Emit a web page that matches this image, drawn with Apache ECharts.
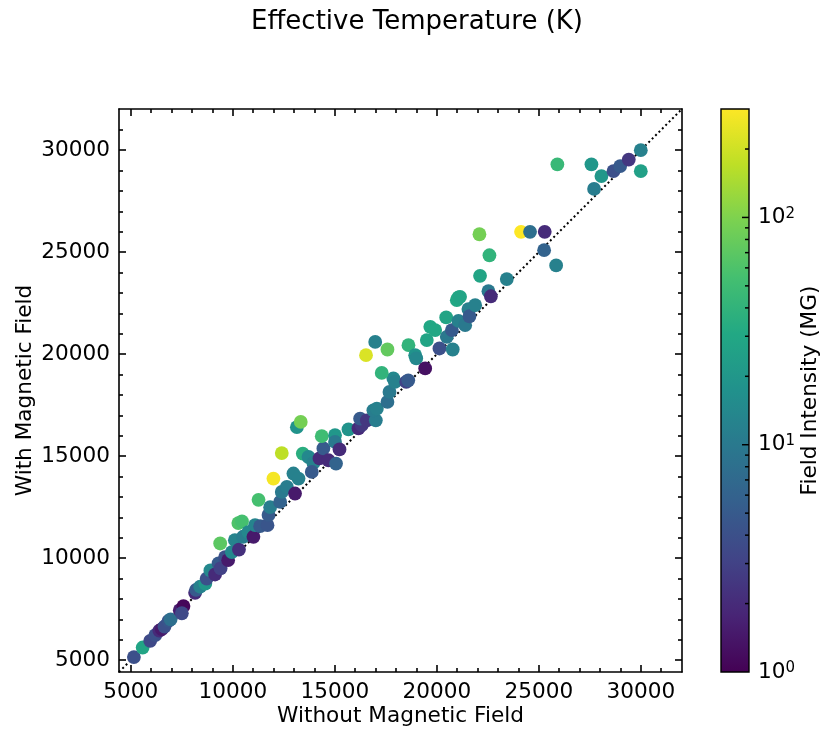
<!DOCTYPE html>
<html><head><meta charset="utf-8">
<script src="https://cdn.jsdelivr.net/npm/echarts@6/dist/echarts.min.js"></script>
<style>html,body{margin:0;padding:0;background:#fff}#c{width:822px;height:731px}</style>
</head><body><div id="c"></div>
<script>
// Effective temperature without / with magnetic field (K), and field intensity (MG)
const withoutField = [5150,5580,5950,6200,6400,6520,6650,6850,6950,7400,7580,7500,8150,8200,8400,8650,8720,8900,9130,9300,9400,9620,9770,9380,9950,10100,10300,10500,10270,10450,10760,11010,11090,11340,11700,11750,11830,11260,12320,12400,11990,12400,12650,12970,13050,13220,13140,13330,13430,13710,13950,13870,14250,14440,14690,14360,15010,15010,15060,15230,15670,16160,16320,16240,16570,17010,16890,17060,17580,17680,17870,17950,18500,18600,17300,16530,16980,17580,18610,18940,18990,19430,19510,19680,19920,20130,20780,20490,20740,20460,21060,21390,20980,21060,21140,21550,21600,21880,22090,22120,22580,22530,22650,23430,24130,24570,25290,25260,25850,25910,27580,27710,28070,28660,28990,29410,30000,30000];
const withField = [5150,5620,5950,6230,6450,6520,6650,6930,7000,7450,7650,7300,8300,8450,8600,8750,9000,9400,9200,9750,9500,10050,9900,10720,10300,10880,10420,11050,11720,11800,11280,11050,11620,11570,11620,12120,12500,12860,12760,13250,13900,15150,13500,14150,13170,13900,16420,16680,15130,14960,14670,14230,14890,15380,14800,15980,16030,15700,14640,15330,16310,16360,16520,16840,16760,16760,17250,17330,17660,18150,18810,18640,18640,18720,19080,19950,20600,20230,20440,19950,19790,19300,20690,21340,21180,20280,20230,20850,21180,21800,21630,21420,22650,22780,22810,22210,21860,22400,25880,23840,24850,23090,22840,23680,26000,26000,26000,25100,24350,29310,29310,28100,28730,28970,29220,29540,30000,28970];
const fieldIntensity = [4,28,3.5,4,2,1.5,4,4.5,8,1.6,1.1,3.5,2,5,12,20,4,14,2,5,3,4,1.5,70,14,13,2.2,11,60,55,14,1.5,13,5,4.5,5,11,55,6,10,280,170,11,12,1.5,12,18,90,35,14,12,5,2,5,2,50,20,10,6,2,18,2,2.5,5,2.5,11,11,12,8,10,14,12,3,5,40,220,12,75,40,18,14,1.3,28,30,30,4,12,10,5,28,12,10,30,30,28,12,5,12,90,28,40,10,2,12,300,8,2,6,12,45,20,11,20,4,5,2.5,12,25];

const axisMin = 4420, axisMax = 32020;
const majorTicks = [5000,10000,15000,20000,25000,30000];
const minorTicks = [6000,7000,8000,9000,11000,12000,13000,14000,16000,17000,18000,19000,21000,22000,23000,24000,26000,27000,28000,29000,31000];
const cbarMin = 1, cbarMax = 300;
const cbarMajor = [1,10,100];
const cbarMinor = [2,3,4,5,6,7,8,9,20,30,40,50,60,70,80,90,200];
const viridis = ['#440154','#482475','#414487','#355f8d','#2a788e','#21918c','#22a884','#44bf70','#7ad151','#bddf26','#fde725'];

const FONT = 'DejaVu Sans';
const FS = 21.6;
const lmax = Math.log10(cbarMax);
const points = withoutField.map((x,i)=>[x, withField[i], Math.log10(fieldIntensity[i])]);

const tickBase = {show:true, inside:true, lineStyle:{color:'#000', width:1.6}};
function ax(pos, vals, len, line, labels){
  return {type:'value', gridIndex:0, position:pos, min:axisMin, max:axisMax,
    splitLine:{show:false},
    axisLine:{show:line, onZero:false, lineStyle:{color:'#000', width:1.6}},
    axisTick:Object.assign({}, tickBase, {length:len, customValues:vals}),
    axisLabel: labels ? {show:true, customValues:vals, formatter:v=>String(v), color:'#000', fontFamily:FONT, fontSize:FS, margin:9} : {show:false}
  };
}
const nameStyle = {color:'#000', fontFamily:FONT, fontSize:FS};
const xAxes = [
  Object.assign(ax('bottom', majorTicks, 7, true, true), {name:'Without Magnetic Field', nameLocation:'middle', nameGap:33, nameMoveOverlap:false, nameTextStyle:nameStyle}),
  ax('bottom', minorTicks, 4, false, false),
  ax('top', majorTicks, 7, true, false),
  ax('top', minorTicks, 4, false, false),
  {type:'value', gridIndex:1, min:0, max:1, show:false}
];
const yAxes = [
  Object.assign(ax('left', majorTicks, 7, true, true), {name:'With Magnetic Field', nameLocation:'middle', nameGap:83, nameRotate:90, nameMoveOverlap:false, nameTextStyle:nameStyle}),
  ax('left', minorTicks, 4, false, false),
  ax('right', majorTicks, 7, true, false),
  ax('right', minorTicks, 4, false, false),
  {type:'value', gridIndex:1, position:'right', min:0, max:lmax, z:10,
    splitLine:{show:false}, axisLine:{show:false}, axisTick:{show:false},
    axisLabel:{show:true, customValues:cbarMajor.map(v=>Math.log10(v)), margin:9, color:'#000', fontFamily:FONT,
      formatter:v=>'{b|10}{s|'+Math.round(v)+'}',
      rich:{b:{fontSize:FS, fontFamily:FONT, color:'#000'}, s:{fontSize:15, fontFamily:FONT, color:'#000', verticalAlign:'top', lineHeight:14}}},
    name:'Field Intensity (MG)', nameLocation:'middle', nameRotate:90, nameGap:50, nameMoveOverlap:false,
    nameTextStyle:nameStyle}
];

const chart = echarts.init(document.getElementById('c'));
chart.setOption({
  animation:false,
  backgroundColor:'#fff',
  graphic:[{type:'text', x:417, y:22, style:{text:'Effective Temperature (K)', align:'center', verticalAlign:'middle',
    fontFamily:FONT, fontSize:26, fill:'#000'}}],
  grid:[
    {left:119, top:109, width:563, height:563, outerBoundsMode:'none', containLabel:false},
    {left:721, top:109, width:28, height:563, outerBoundsMode:'none', containLabel:false}
  ],
  xAxis:xAxes,
  yAxis:yAxes,
  visualMap:{show:false, type:'continuous', seriesIndex:1, dimension:2, min:0, max:lmax, inRange:{color:viridis}},
  series:[
    {type:'line', xAxisIndex:0, yAxisIndex:0, data:[[axisMin,axisMin],[axisMax,axisMax]], symbol:'none', z:1,
      lineStyle:{color:'#000', width:2, type:[2,2.8]}},
    {type:'scatter', xAxisIndex:0, yAxisIndex:0, data:points, symbolSize:13.8, z:2,
      itemStyle:{opacity:1}},
    {type:'custom', xAxisIndex:4, yAxisIndex:4, data:[[0,0]], z:2,
      renderItem:(params, api)=>{
        const p0 = api.coord([0, lmax]);
        const p1 = api.coord([1, 0]);
        const stops = viridis.map((c,i)=>({offset:i/(viridis.length-1), color:c}));
        const children = [{type:'rect', shape:{x:p0[0], y:p0[1], width:p1[0]-p0[0], height:p1[1]-p0[1]},
          style:{fill:new echarts.graphic.LinearGradient(0,1,0,0,stops), stroke:'#000', lineWidth:1.4}}];
        const tick = (v,len)=>{
          const p = api.coord([1, Math.log10(v)]);
          children.push({type:'line', shape:{x1:p[0]-len, y1:p[1], x2:p[0], y2:p[1]}, style:{stroke:'#000', lineWidth:1.5}});
        };
        cbarMajor.slice(1).forEach(v=>tick(v,7));
        cbarMinor.forEach(v=>tick(v,4));
        return {type:'group', children};
      }}
  ]
});
</script></body></html>
